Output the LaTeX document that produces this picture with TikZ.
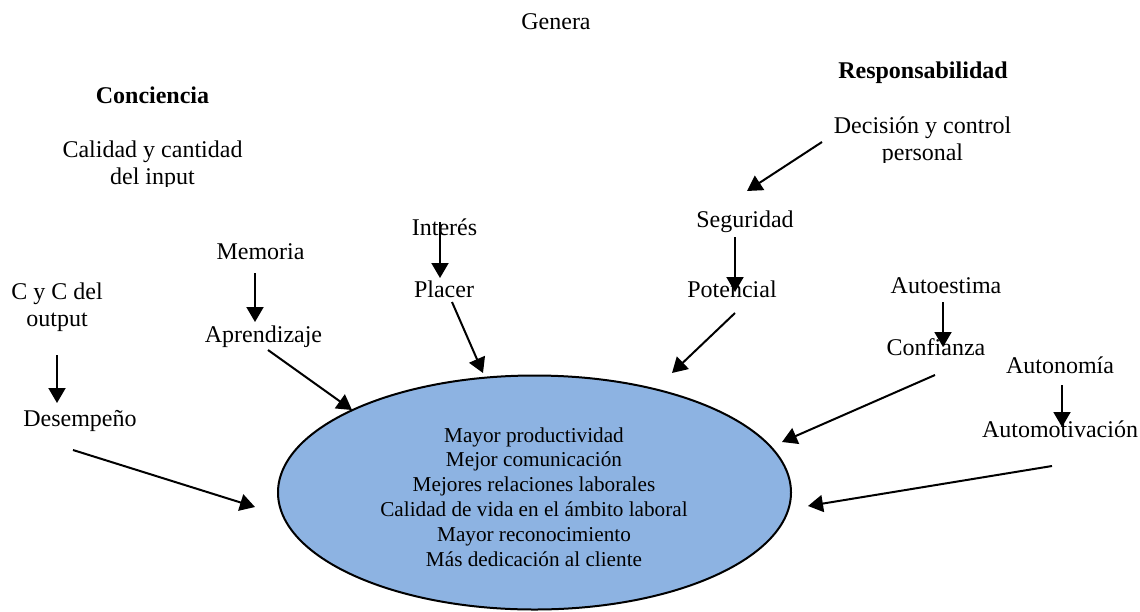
\documentclass[tikz,border=0pt]{standalone}
\usepackage{fontspec}
\setmainfont{Liberation Serif}
\usetikzlibrary{arrows.meta,shapes.geometric}
\definecolor{ellblue}{RGB}{141,179,226}
\begin{document}
\begin{tikzpicture}[x=0.5pt,y=-0.5pt,
  lbl/.style={inner sep=0pt, anchor=base, font=\fontsize{12pt}{13.3pt}\selectfont},
  head/.style={lbl, font=\fontsize{12pt}{13.3pt}\selectfont\bfseries},
  two/.style={lbl, align=center},
  link/.style={line width=1pt, -{Triangle[length=7.5pt,width=8.5pt]}},
  core/.style={ellipse, draw, line width=1pt, fill=ellblue,
    minimum width=256.5pt, minimum height=117pt, inner sep=0pt,
    align=center, font=\fontsize{10.6pt}{12.45pt}\selectfont}]
\useasboundingbox (0,0) rectangle (1140,611);

% central outcome
\node[core] (core) at (534.5,492.5) {};
\node[inner sep=0pt, align=center, font=\fontsize{10.6pt}{12.45pt}\selectfont]
  (core-text) at (534,497) {Mayor productividad\\Mejor comunicación\\Mejores relaciones laborales\\Calidad de vida en el ámbito laboral\\Mayor reconocimiento\\Más dedicación al cliente};

% headings
\node[lbl]  (genera) at (556,29) {Genera};
\node[head] (conc)   at (152.5,103) {Conciencia};
\node[head] (resp)   at (923,78) {Responsabilidad};

% text boxes whose last line is cut at the bottom (anchor = last baseline)
\begin{scope}
  \clip (40,120) rectangle (270,186);
  \node[two] (input) at (152.5,184) {Calidad y cantidad\\del input};
\end{scope}
\begin{scope}
  \clip (820,100) rectangle (1030,162);
  \node[two] (decision) at (922.5,160) {Decisión y control\\personal};
\end{scope}

% factors
\node[two] (cyc)        at (57,326)    {C y C del\\output};
\node[lbl] (desem)      at (80,426)    {Desempeño};
\node[lbl] (memoria)    at (260.5,259) {Memoria};
\node[lbl] (aprend)     at (263.5,342) {Aprendizaje};
\node[lbl] (interes)    at (444.5,235) {Interés};
\node[lbl] (placer)     at (444,297)   {Placer};
\node[lbl] (seguridad)  at (745,227)   {Seguridad};
\node[lbl] (potencial)  at (732,297)   {Potencial};
\node[lbl] (autoestima) at (946,293)   {Autoestima};
\node[lbl] (confianza)  at (936,355)   {Confianza};
\node[lbl] (autonomia)  at (1060,373)  {Autonomía};
\node[lbl] (automot)    at (1060,437)  {Automotivación};

% arrow end points
\coordinate (cyc-o)   at (57,355);   \coordinate (desem-i)  at (57,403);
\coordinate (desem-o) at (73,450);   \coordinate (core-a)   at (255,507);
\coordinate (mem-o)   at (255,273);  \coordinate (apr-i)    at (255,322);
\coordinate (apr-o)   at (268,350);  \coordinate (core-b)   at (352,410);
\coordinate (int-o)   at (440,222);  \coordinate (pla-i)    at (440,278);
\coordinate (pla-o)   at (452,302);  \coordinate (core-c)   at (483,373);
\coordinate (dec-o)   at (822,142);  \coordinate (seg-i)    at (747,191);
\coordinate (seg-o)   at (735,237);  \coordinate (pot-i)    at (735,292);
\coordinate (pot-o)   at (735,313);  \coordinate (core-d)   at (672,373);
\coordinate (aes-o)   at (943,302);  \coordinate (con-i)    at (943,347);
\coordinate (con-o)   at (935,375);  \coordinate (core-e)   at (782,442);
\coordinate (aut-o)   at (1062,385); \coordinate (amo-i)    at (1062,427);
\coordinate (amo-o)   at (1052,466); \coordinate (core-f)   at (808,506);

% connectors
\draw[link] (cyc-o)   -- (desem-i);
\draw[link] (desem-o) -- (core-a);
\draw[link] (mem-o)   -- (apr-i);
\draw[link] (apr-o)   -- (core-b);
\draw[link] (int-o)   -- (pla-i);
\draw[link] (pla-o)   -- (core-c);
\draw[link] (dec-o)   -- (seg-i);
\draw[link] (seg-o)   -- (pot-i);
\draw[link] (pot-o)   -- (core-d);
\draw[link] (aes-o)   -- (con-i);
\draw[link] (con-o)   -- (core-e);
\draw[link] (aut-o)   -- (amo-i);
\draw[link] (amo-o)   -- (core-f);
\end{tikzpicture}
\end{document}
